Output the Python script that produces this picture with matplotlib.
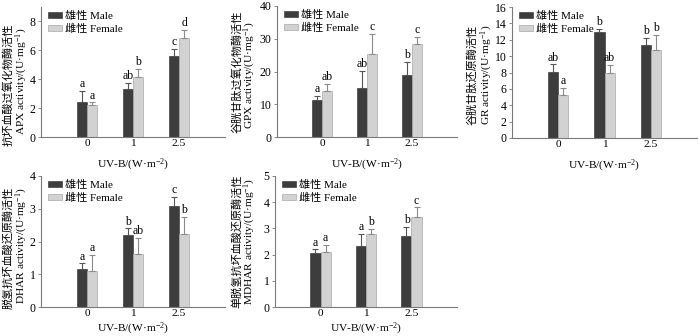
import matplotlib
matplotlib.use("Agg")
import matplotlib.pyplot as plt
import numpy as np

plt.rcParams['font.family'] = ['Liberation Serif', 'Noto Sans CJK SC']
plt.rcParams['mathtext.fontset'] = 'custom'
plt.rcParams['mathtext.rm'] = 'Liberation Serif'
plt.rcParams['mathtext.it'] = 'Liberation Serif:italic'

categories = ['0', '1', '2.5']
legend_labels = ['雄性 Male', '雌性 Female']
xlabel = 'UV-B/(W·m$^{-2}$)'

apx_male = [2.45, 3.3, 5.6]
apx_male_err = [0.75, 0.45, 0.5]
apx_female = [2.25, 4.15, 6.85]
apx_female_err = [0.15, 0.55, 0.55]
apx_male_letters = ['a', 'ab', 'c']
apx_female_letters = ['a', 'b', 'd']

gpx_male = [11.2, 15.0, 19.0]
gpx_male_err = [1.3, 5.2, 4.0]
gpx_female = [14.0, 25.3, 28.5]
gpx_female_err = [2.2, 6.2, 2.0]
gpx_male_letters = ['a', 'ab', 'b']
gpx_female_letters = ['ab', 'c', 'c']

gr_male = [8.1, 12.9, 11.3]
gr_male_err = [0.9, 0.4, 0.9]
gr_female = [5.2, 8.0, 10.7]
gr_female_err = [0.9, 0.9, 1.9]
gr_male_letters = ['ab', 'b', 'b']
gr_female_letters = ['a', 'ab', 'b']

dhar_male = [1.17, 2.2, 3.07]
dhar_male_err = [0.16, 0.2, 0.3]
dhar_female = [1.1, 1.63, 2.22]
dhar_female_err = [0.5, 0.49, 0.53]
dhar_male_letters = ['a', 'b', 'c']
dhar_female_letters = ['a', 'ab', 'b']

mdhar_male = [2.05, 2.33, 2.72]
mdhar_male_err = [0.15, 0.47, 0.33]
mdhar_female = [2.1, 2.8, 3.42]
mdhar_female_err = [0.27, 0.17, 0.38]
mdhar_male_letters = ['a', 'a', 'b']
mdhar_female_letters = ['a', 'b', 'c']

panels = [
    dict(m=apx_male, me=apx_male_err, f=apx_female, fe=apx_female_err,
         ml=apx_male_letters, fl=apx_female_letters, ylim=9, yticks=[0, 2, 4, 6, 8],
         zh='抗坏血酸过氧化物酶活性', en='APX activity/(U·mg$^{-1}$)',
         box=(41, 225, 7, 137), zhp=(-0.177, 0.40), enp=(-0.104, 0.43), xly=-0.15),
    dict(m=gpx_male, me=gpx_male_err, f=gpx_female, fe=gpx_female_err,
         ml=gpx_male_letters, fl=gpx_female_letters, ylim=40, yticks=[0, 10, 20, 30, 40],
         zh='谷胱甘肽过氧化物酶活性', en='GPX activity/(U·mg$^{-1}$)',
         box=(277, 457, 6, 137), zhp=(-0.225, 0.5), enp=(-0.15, 0.47), xly=-0.15),
    dict(m=gr_male, me=gr_male_err, f=gr_female, fe=gr_female_err,
         ml=gr_male_letters, fl=gr_female_letters, ylim=16, yticks=[0, 2, 4, 6, 8, 10, 12, 14, 16],
         zh='谷胱甘肽还原酶活性', en='GR activity/(U·mg$^{-1}$)',
         box=(512, 697, 7, 138), zhp=(-0.215, 0.48), enp=(-0.138, 0.48), xly=-0.15),
    dict(m=dhar_male, me=dhar_male_err, f=dhar_female, fe=dhar_female_err,
         ml=dhar_male_letters, fl=dhar_female_letters, ylim=4, yticks=[0, 1, 2, 3, 4],
         zh='脱氢抗坏血酸还原酶活性', en='DHAR activity/(U·mg$^{-1}$)',
         box=(41, 225, 176, 307), zhp=(-0.179, 0.45), enp=(-0.104, 0.47), xly=-0.108),
    dict(m=mdhar_male, me=mdhar_male_err, f=mdhar_female, fe=mdhar_female_err,
         ml=mdhar_male_letters, fl=mdhar_female_letters, ylim=5, yticks=[0, 1, 2, 3, 4, 5],
         zh='单脱氢抗坏血酸还原酶活性', en='MDHAR activity/(U·mg$^{-1}$)',
         box=(275, 457, 176, 307), zhp=(-0.212, 0.5), enp=(-0.137, 0.5), xly=-0.108),
]

W, H = 700, 336
fig = plt.figure(figsize=(W / 100, H / 100), dpi=100)

male_c = '#3d3d3d'
female_c = '#d2d2d2'
spine_c = '#7a7a7a'
bw = 0.22
fs = 8.5

for p in panels:
    l, r, t, b = p['box']
    ax = fig.add_axes([l / W, 1 - b / H, (r - l) / W, (b - t) / H])
    x = np.arange(len(categories))
    ax.bar(x - bw / 2, p['m'], bw, color=male_c, edgecolor='#2a2a2a', linewidth=0.4,
           yerr=[np.zeros(3), p['me']], error_kw=dict(ecolor='#555555', elinewidth=0.8, capsize=2, capthick=0.8),
           label=legend_labels[0])
    ax.bar(x + bw / 2, p['f'], bw, color=female_c, edgecolor='#a8a8a8', linewidth=0.5,
           yerr=[np.zeros(3), p['fe']], error_kw=dict(ecolor='#8a8a8a', elinewidth=0.8, capsize=2, capthick=0.8),
           label=legend_labels[1])
    for i in range(len(categories)):
        ax.annotate(p['ml'][i], (x[i] - bw / 2, p['m'][i] + p['me'][i]), xytext=(0, 0.5),
                    textcoords='offset points', ha='center', va='bottom', fontsize=fs)
        ax.annotate(p['fl'][i], (x[i] + bw / 2, p['f'][i] + p['fe'][i]), xytext=(0, 0.5),
                    textcoords='offset points', ha='center', va='bottom', fontsize=fs)
    ax.set_xlim(-1, 3)
    ax.set_ylim(0, p['ylim'])
    ax.set_yticks(p['yticks'])
    ax.set_xticks(x)
    ax.set_xticklabels(categories)
    ax.tick_params(axis='x', length=0, labelsize=8.2, pad=1.2)
    ax.tick_params(axis='y', length=2, width=0.6, color=spine_c, labelsize=fs, pad=2)
    for s in ['top', 'right']:
        ax.spines[s].set_visible(False)
    for s in ['left', 'bottom']:
        ax.spines[s].set_color(spine_c)
        ax.spines[s].set_linewidth(0.8)
    ax.set_xlabel(xlabel, fontsize=8.2)
    ax.xaxis.set_label_coords(0.5, p['xly'])
    ax.text(p['zhp'][0], p['zhp'][1], p['zh'], transform=ax.transAxes, rotation=90,
            ha='center', va='center', fontsize=8.0, clip_on=False)
    ax.text(p['enp'][0], p['enp'][1], p['en'], transform=ax.transAxes, rotation=90,
            ha='center', va='center', fontsize=8.2, clip_on=False)
    ax.legend(loc='upper left', bbox_to_anchor=(0.0, 1.02), frameon=False, fontsize=8,
              handlelength=1.3, handleheight=0.45, handletextpad=0.3, labelspacing=0.2,
              borderaxespad=0.2)

fig.savefig('out.png', dpi=100)
